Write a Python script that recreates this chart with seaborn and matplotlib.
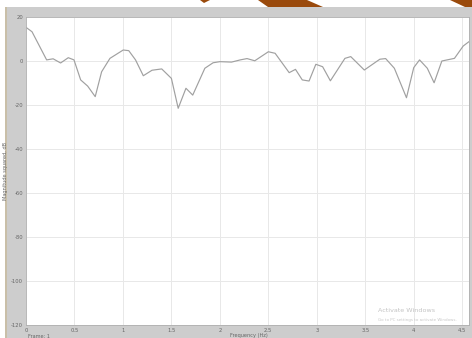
import matplotlib
matplotlib.use("Agg")
import matplotlib.pyplot as plt
import seaborn as sns
import pandas as pd
from matplotlib.patches import Rectangle, Polygon

# ---- data ----
freq_hz = [0, 0.062, 0.213, 0.28, 0.357, 0.436, 0.495, 0.564, 0.636, 0.714, 0.78, 0.866,
           1.003, 1.06, 1.13, 1.21, 1.3, 1.4, 1.5, 1.57, 1.65, 1.72, 1.845, 1.93, 2.0,
           2.12, 2.21, 2.28, 2.36, 2.5, 2.57, 2.715, 2.78, 2.85, 2.92, 2.99, 3.06, 3.14,
           3.29, 3.35, 3.49, 3.65, 3.71, 3.80, 3.925, 4.0, 4.06, 4.14, 4.21, 4.29, 4.42,
           4.51, 4.57]
mag_db = [15.3, 13.3, 0.5, 1.0, -0.9, 1.5, 0.5, -8.6, -11.4, -16.2, -4.9, 1.2,
          5.0, 4.7, 0.5, -6.7, -4.2, -3.6, -7.9, -21.5, -12.4, -15.5, -3.3, -0.8, -0.3,
          -0.5, 0.5, 1.1, 0.1, 4.2, 3.5, -5.3, -3.8, -8.6, -9.1, -1.5, -2.6, -9.0,
          1.2, 2.0, -4.1, 0.8, 1.1, -3.3, -16.7, -3.0, 0.5, -3.3, -9.9, 0.0, 1.2,
          6.8, 8.8]
x_ticks = [0, 0.5, 1, 1.5, 2, 2.5, 3, 3.5, 4, 4.5]
x_tick_labels = ["0", "0.5", "1", "1.5", "2", "2.5", "3", "3.5", "4", "4.5"]
y_ticks = [20, 0, -20, -40, -60, -80, -100, -120]
y_tick_labels = ["20", "0", "-20", "-40", "-60", "-80", "-100", "-120"]

df = pd.DataFrame({"Frequency (Hz)": freq_hz, "Magnitude squared, dB": mag_db})

sns.set_style("whitegrid")
plt.rcParams["font.family"] = ["DejaVu Sans"]

W, H = 472, 338
fig = plt.figure(figsize=(W / 100, H / 100), dpi=100)
fig.patch.set_facecolor("white")

# gray window frame
fig.patches.append(Rectangle((6 / W, 0), (W - 6) / W, (H - 7) / H,
                             transform=fig.transFigure, facecolor="#cdcdcd",
                             edgecolor="none", zorder=-5))
fig.patches.append(Rectangle((5 / W, 0), 2 / W, (H - 7) / H,
                             transform=fig.transFigure, facecolor="#c9bfa8",
                             edgecolor="none", zorder=-5))

# decorative orange slide shapes at top
orange = "#9a4a0c"
def fpoly(pts):
    fig.patches.append(Polygon([(x / W, 1 - y / H) for x, y in pts], closed=True,
                               transform=fig.transFigure, facecolor=orange,
                               edgecolor="none", zorder=-4))
fpoly([(200, 0), (210, 0), (204, 3)])
fpoly([(258, 0), (307, 0), (323, 7), (268, 7)])
fpoly([(450, 0), (472, 0), (472, 7), (465, 7)])

left, right, top, bottom = 26, 469, 17, 325
ax = fig.add_axes([left / W, (H - bottom) / H, (right - left) / W, (bottom - top) / H])
ax.set_zorder(2)
ax.set_facecolor("white")

sns.lineplot(data=df, x="Frequency (Hz)", y="Magnitude squared, dB", ax=ax,
             color="#a0a0a0", linewidth=0.85)

ax.set_xlim(0, 4.57)
ax.set_ylim(-120, 20)
ax.set_xticks(x_ticks)
ax.set_xticklabels(x_tick_labels)
ax.set_yticks(y_ticks)
ax.set_yticklabels(y_tick_labels)
ax.grid(True, color="#e8e8e8", linewidth=0.7)
ax.tick_params(axis="both", labelsize=3.8, colors="#666666", length=0, pad=2)
for s in ax.spines.values():
    s.set_color("#b0b0b0")
    s.set_linewidth(0.6)

ax.set_xlabel("")
ax.set_ylabel("Magnitude squared, dB", fontsize=3.6, color="#666666", labelpad=2)

fig.text(230 / W, 1 - 336 / H, "Frequency (Hz)", fontsize=3.6, color="#666666",
         ha="left", va="center")
fig.text(28 / W, 1 - 336 / H, "Frame: 1", fontsize=3.6, color="#666666",
         ha="left", va="center")

# screen watermark
fig.text(378 / W, 1 - 310 / H, "Activate Windows", fontsize=4.6, color="#c4c4c4",
         ha="left", va="center", zorder=10)
fig.text(378 / W, 1 - 320 / H, "Go to PC settings to activate Windows.", fontsize=2.9,
         color="#c8c8c8", ha="left", va="center", zorder=10)

fig.savefig("out.png", dpi=100)
